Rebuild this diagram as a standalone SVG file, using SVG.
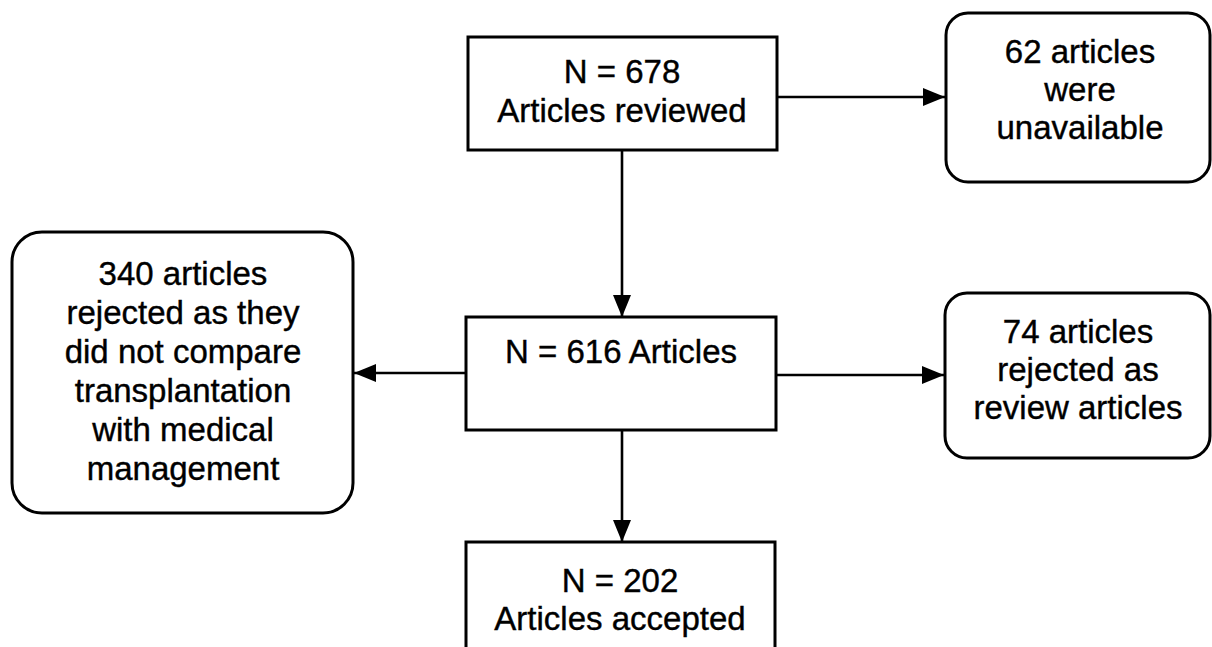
<svg xmlns="http://www.w3.org/2000/svg" width="1212" height="647" viewBox="0 0 1212 647">
<style>
.box{fill:#fff;stroke:#000;stroke-width:3}
.t{font-family:"Liberation Sans",Arial,sans-serif;font-size:33px;fill:#000;stroke:#000;stroke-width:0.4;text-anchor:middle}
.c{stroke:#000;stroke-width:2.6;fill:none}
</style>
<defs>
<marker id="ah" markerWidth="24" markerHeight="18" refX="22" refY="9" orient="auto" markerUnits="userSpaceOnUse">
<path d="M0,0 L22,9 L0,18 Z" fill="#000"/>
</marker>
</defs>
<rect width="1212" height="647" fill="#fff"/>
<g id="connectors">
<line class="c" x1="777" y1="97" x2="945" y2="97" marker-end="url(#ah)"/>
<line class="c" x1="622" y1="150" x2="622" y2="317" marker-end="url(#ah)"/>
<line class="c" x1="466" y1="373" x2="354" y2="373" marker-end="url(#ah)"/>
<line class="c" x1="776" y1="375" x2="944" y2="375" marker-end="url(#ah)"/>
<line class="c" x1="622" y1="430" x2="622" y2="542" marker-end="url(#ah)"/>
</g>
<g id="n678">
<rect class="box" x="468" y="37" width="309" height="113"/>
<text class="t" x="622" y="83">N = 678</text>
<text class="t" x="622" y="122">Articles reviewed</text>
</g>
<g id="unavailable">
<rect class="box" x="946" y="13" width="264" height="169" rx="22"/>
<text class="t" x="1080" y="63">62 articles</text>
<text class="t" x="1080" y="101">were</text>
<text class="t" x="1080" y="139">unavailable</text>
</g>
<g id="rejected340">
<rect class="box" x="12" y="232" width="341" height="281" rx="30"/>
<text class="t" x="183" y="285">340 articles</text>
<text class="t" x="183" y="324">rejected as they</text>
<text class="t" x="183" y="363">did not compare</text>
<text class="t" x="183" y="402">transplantation</text>
<text class="t" x="183" y="441">with medical</text>
<text class="t" x="183" y="480">management</text>
</g>
<g id="n616">
<rect class="box" x="466" y="317" width="310" height="113"/>
<text class="t" x="621" y="363">N = 616 Articles</text>
</g>
<g id="rejected74">
<rect class="box" x="945" y="293" width="265" height="165" rx="22"/>
<text class="t" x="1078" y="343">74 articles</text>
<text class="t" x="1078" y="381">rejected as</text>
<text class="t" x="1078" y="419">review articles</text>
</g>
<g id="n202">
<rect class="box" x="466" y="542" width="309" height="130"/>
<text class="t" x="620" y="592">N = 202</text>
<text class="t" x="620" y="630">Articles accepted</text>
</g>
</svg>
